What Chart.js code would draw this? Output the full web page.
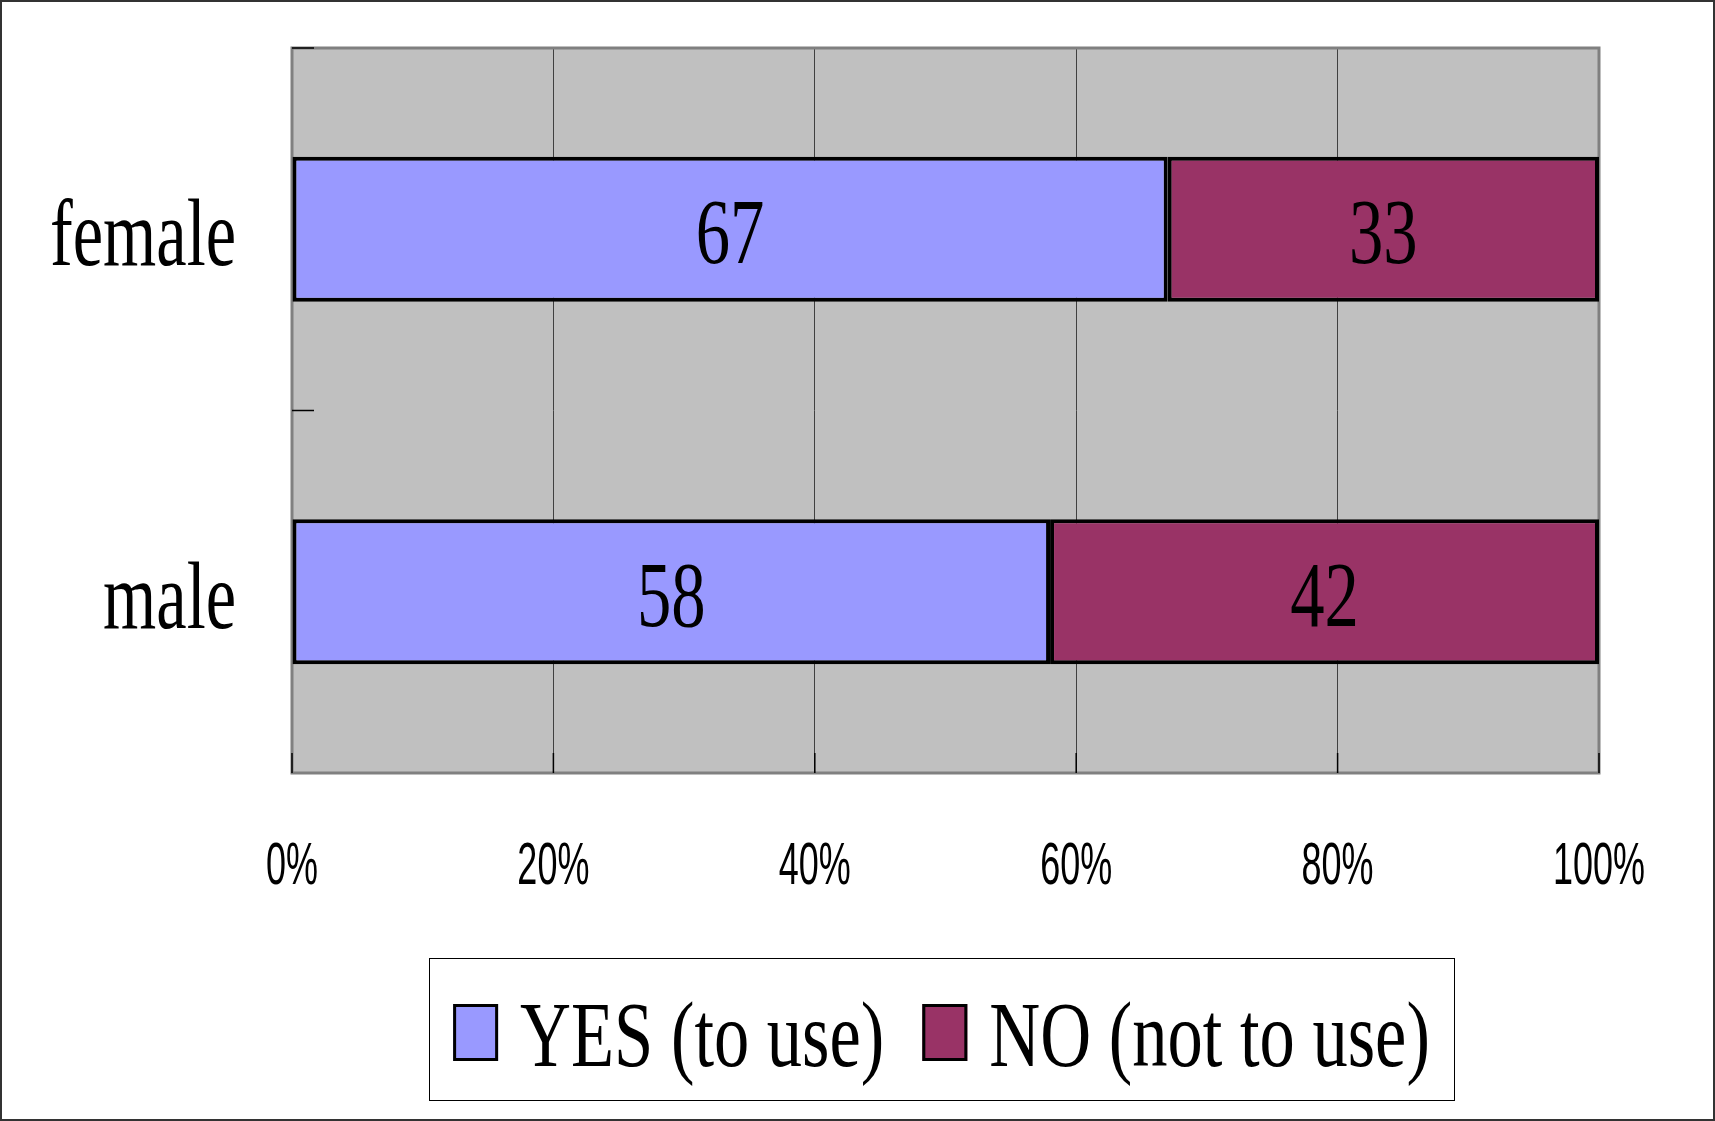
<!DOCTYPE html>
<html>
<head>
<meta charset="utf-8">
<script src="https://cdn.jsdelivr.net/npm/chart.js@4/dist/chart.umd.min.js"></script>
<style>
  html, body { margin: 0; padding: 0; background: #fff; }
  canvas { display: block; }
</style>
</head>
<body>
<canvas id="usage-chart" width="1715" height="1121"></canvas>
<script>
// Survey answers by gender (percent)
const categories = ['female', 'male'];
const yesValues = [67, 58];
const noValues = [33, 42];
const seriesNames = ['YES (to use)', 'NO (not to use)'];
const tickValues = [0, 20, 40, 60, 80, 100];

const COLORS = {
  yes: '#9999FF',
  no: '#993366',
  plot: '#C0C0C0',
  plotBorder: '#808080',
  grid: '#404040',
  text: '#000000'
};

const SERIF = '"Liberation Serif", "Times New Roman", serif';
const SANS = '"Liberation Sans", Arial, sans-serif';

// draws condensed text (the labels use a narrow face)
function drawText(ctx, text, x, y, font, squeeze, align) {
  ctx.save();
  ctx.font = font;
  ctx.fillStyle = COLORS.text;
  ctx.textBaseline = 'alphabetic';
  const w = ctx.measureText(text).width * squeeze;
  let left = x;
  if (align === 'center') left = x - w / 2;
  if (align === 'right') left = x - w;
  ctx.translate(left, y);
  ctx.scale(squeeze, 1);
  ctx.textAlign = 'left';
  ctx.fillText(text, 0, 0);
  ctx.restore();
  return w;
}

const chartFrame = {
  id: 'chartFrame',
  beforeDraw(chart) {
    const { ctx, chartArea: a } = chart;
    ctx.save();
    ctx.fillStyle = '#fff';
    ctx.fillRect(0, 0, chart.width, chart.height);
    ctx.fillStyle = COLORS.plot;
    ctx.fillRect(a.left, a.top, a.right - a.left, a.bottom - a.top);
    ctx.restore();
  },
  beforeDatasetsDraw(chart) {
    // plot border sits under the bars
    const { ctx, chartArea: a } = chart;
    ctx.save();
    ctx.strokeStyle = COLORS.plotBorder;
    ctx.lineWidth = 3;
    ctx.strokeRect(a.left, a.top, a.right - a.left, a.bottom - a.top);
    ctx.restore();
  },
  afterDatasetsDraw(chart) {
    const { ctx, chartArea: a } = chart;
    const xScale = chart.scales.x;
    const yScale = chart.scales.y;

    // value labels inside the bars
    chart.data.datasets.forEach((ds, di) => {
      chart.getDatasetMeta(di).data.forEach((el, i) => {
        const cx = (el.x + el.base) / 2;
        drawText(ctx, String(ds.data[i]), cx, el.y + 34, '94px ' + SERIF, 0.73, 'center');
      });
    });

    // inward tick marks
    ctx.save();
    ctx.strokeStyle = '#000';
    ctx.lineWidth = 1.5;
    ctx.beginPath();
    const step = yScale.getPixelForValue(1) - yScale.getPixelForValue(0);
    for (let i = 0; i < categories.length; i++) {
      const y = yScale.getPixelForValue(i) - step / 2;
      ctx.moveTo(a.left, y);
      ctx.lineTo(a.left + 22, y);
    }
    tickValues.forEach(v => {
      const x = xScale.getPixelForValue(v);
      ctx.moveTo(x, a.bottom);
      ctx.lineTo(x, a.bottom - 20);
    });
    ctx.stroke();
    ctx.restore();

    // category labels
    categories.forEach((c, i) => {
      drawText(ctx, c, 236, yScale.getPixelForValue(i) + 36, '95px ' + SERIF, 0.72, 'right');
    });

    // percent tick labels
    tickValues.forEach(v => {
      drawText(ctx, v + '%', xScale.getPixelForValue(v), 884, '60px ' + SANS, 0.6, 'center');
    });

    // legend
    const box = { left: 429, top: 958, right: 1454, bottom: 1100 };
    ctx.save();
    ctx.fillStyle = '#fff';
    ctx.fillRect(box.left, box.top, box.right - box.left, box.bottom - box.top);
    ctx.strokeStyle = '#000';
    ctx.lineWidth = 1;
    ctx.strokeRect(box.left + 0.5, box.top + 0.5, box.right - box.left, box.bottom - box.top);
    ctx.restore();

    const legendFont = '94px ' + SERIF;
    const squeeze = 0.75;
    const swatchW = 45, swatchH = 57, gap = 22, itemGap = 38;
    ctx.save();
    ctx.font = legendFont;
    const widths = seriesNames.map(n => ctx.measureText(n).width * squeeze);
    ctx.restore();
    const total = widths.reduce((s, w) => s + swatchW + gap + w, 0) + itemGap * (seriesNames.length - 1);
    let x = (box.left + box.right) / 2 - total / 2;
    const baseline = 1066;
    chart.data.datasets.forEach((ds, i) => {
      ctx.save();
      ctx.fillStyle = ds.backgroundColor;
      ctx.fillRect(x, baseline - 62, swatchW, swatchH);
      ctx.strokeStyle = '#000';
      ctx.lineWidth = 3;
      ctx.strokeRect(x + 1.5, baseline - 60.5, swatchW - 3, swatchH - 3);
      ctx.restore();
      x += swatchW + gap;
      drawText(ctx, seriesNames[i], x, baseline, legendFont, squeeze, 'left');
      x += widths[i] + itemGap;
    });

    // outer frame
    ctx.save();
    ctx.strokeStyle = '#333';
    ctx.lineWidth = 2;
    ctx.strokeRect(1, 1, chart.width - 2, chart.height - 2);
    ctx.restore();
  }
};

const barStyle = {
  borderColor: '#000000',
  borderWidth: 4,
  borderSkipped: false,
  barPercentage: 0.4,
  categoryPercentage: 1.0
};

new Chart(document.getElementById('usage-chart'), {
  type: 'bar',
  data: {
    labels: categories,
    datasets: [
      Object.assign({ label: seriesNames[0], data: yesValues, backgroundColor: COLORS.yes }, barStyle),
      Object.assign({ label: seriesNames[1], data: noValues, backgroundColor: COLORS.no }, barStyle)
    ]
  },
  options: {
    indexAxis: 'y',
    responsive: false,
    animation: false,
    layout: {
      padding: { left: 292, top: 48, right: 116, bottom: 348 }
    },
    scales: {
      x: {
        stacked: true,
        min: 0,
        max: 100,
        afterBuildTicks(scale) {
          scale.ticks = tickValues.map(v => ({ value: v }));
        },
        ticks: { display: false },
        grid: { color: COLORS.grid, lineWidth: 1, drawTicks: false },
        border: { display: false }
      },
      y: {
        stacked: true,
        ticks: { display: false },
        grid: { display: false, drawTicks: false },
        border: { display: false }
      }
    },
    plugins: {
      legend: { display: false },
      tooltip: { enabled: false }
    }
  },
  plugins: [chartFrame]
});
</script>
</body>
</html>
